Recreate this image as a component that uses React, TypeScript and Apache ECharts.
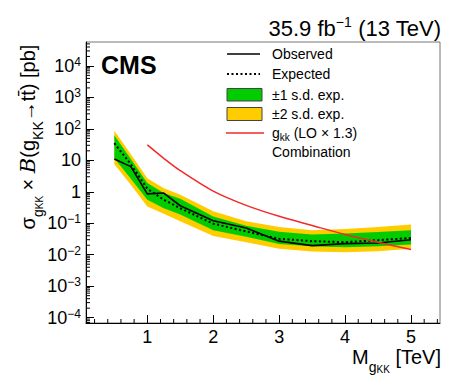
import React, { useEffect, useRef } from "react";
import * as echarts from "echarts";

// ---- data ----
const masses = [0.5, 0.75, 1.0, 1.25, 1.5, 2.0, 2.5, 3.0, 3.5, 4.0, 4.5, 5.0];
const observed = [11, 6.3, 0.86, 0.91, 0.36, 0.12, 0.071, 0.027, 0.0195, 0.0225, 0.0235, 0.03];
const expected = [35, 7.5, 1.25, 0.56, 0.3, 0.097, 0.055, 0.032, 0.027, 0.025, 0.029, 0.034];
const band1Up = [63, 11, 1.9, 0.91, 0.6, 0.165, 0.084, 0.054, 0.044, 0.047, 0.053, 0.06];
const band1Down = [11.6, 2.6, 0.56, 0.3, 0.19, 0.06, 0.037, 0.022, 0.0186, 0.0174, 0.0186, 0.021];
const band2Up = [87, 15.6, 2.7, 1.3, 0.8, 0.24, 0.115, 0.076, 0.06, 0.066, 0.076, 0.091];
const band2Down = [7.5, 1.66, 0.34, 0.2, 0.115, 0.039, 0.025, 0.0154, 0.0126, 0.012, 0.013, 0.0154];
const theoryMass = [1.0, 1.25, 1.5, 2.0, 2.5, 3.0, 3.5, 4.0, 4.5, 5.0];
const theory = [31, 11.6, 4.7, 1.05, 0.37, 0.166, 0.085, 0.044, 0.025, 0.0146];

const xMin = 0.07;
const xMax = 5.44;
const yMin = Math.pow(10, -4.17);
const yMax = Math.pow(10, 4.76);

const FONT = "Liberation Sans, Arial, Helvetica, sans-serif";
const GREEN = "#00cc00";
const YELLOW = "#ffcc00";
const RED = "#f22a2a";

const xMinorTicks: number[] = [];
for (let i = 1; i * 0.2 < xMax; i++) {
  if (i % 5 !== 0) xMinorTicks.push(+(i * 0.2).toFixed(2));
}
const yMinorTicks: number[] = [];
for (let n = -5; n <= 4; n++) {
  for (let k = 2; k <= 9; k++) {
    const v = k * Math.pow(10, n);
    if (v > yMin && v < yMax) yMinorTicks.push(v);
  }
}

function bandSeries(up: number[], down: number[], color: string, z: number) {
  return {
    type: "custom",
    silent: true,
    z,
    data: [[masses[0], up[0]]],
    renderItem: (_p: any, api: any) => {
      const top = masses.map((m, i) => api.coord([m, up[i]]));
      const bot = masses.map((m, i) => api.coord([m, down[i]])).reverse();
      return {
        type: "polygon",
        shape: { points: top.concat(bot) },
        style: { fill: color, stroke: "none" },
      };
    },
  };
}

const subRich = {
  m: { fontSize: 20, lineHeight: 34, fontFamily: FONT, fill: "#000", color: "#000" },
  b: { fontSize: 21, lineHeight: 34, fontFamily: "DejaVu Serif, serif", fontStyle: "italic", color: "#000" },
  s1: { fontSize: 14, lineHeight: 16, verticalAlign: "bottom", fontFamily: FONT, color: "#000" },
  s2: { fontSize: 10, lineHeight: 4, verticalAlign: "bottom", fontFamily: FONT, color: "#000" },
};

export default function App() {
  const ref = useRef<HTMLDivElement>(null);
  useEffect(() => {
    const chart = echarts.init(ref.current!, null, { renderer: "svg" });
    const option: any = {
      animation: false,
      backgroundColor: "#fff",
      grid: {
        left: 86,
        top: 42,
        right: 29,
        bottom: 69,
        show: true,
        borderColor: "#777",
        borderWidth: 1,
        backgroundColor: "transparent",
      },
      xAxis: {
        type: "value",
        min: xMin,
        max: xMax,
        splitNumber: 5,
        axisLine: { onZero: false, lineStyle: { color: "#000", width: 1 } },
        axisTick: { inside: true, length: 8, lineStyle: { color: "#000" } },
        axisLabel: {
          fontSize: 18,
          color: "#000",
          fontFamily: FONT,
          margin: 5,
          showMinLabel: false,
          showMaxLabel: false,
        },
        splitLine: { show: false },
      },
      yAxis: {
        type: "log",
        logBase: 10,
        min: yMin,
        max: yMax,
        splitNumber: 10,
        axisLine: { onZero: false, lineStyle: { color: "#000", width: 1 } },
        axisTick: { inside: true, length: 8, lineStyle: { color: "#000" } },
        axisLabel: {
          fontSize: 18,
          lineHeight: 20,
          color: "#000",
          fontFamily: FONT,
          margin: 5,
          showMinLabel: false,
          showMaxLabel: false,
          formatter: (v: number) => {
            const l = Math.log10(v);
            const e = Math.round(l);
            if (Math.abs(l - e) > 0.01) return "";
            if (e === 0) return "1";
            if (e === 1) return "10";
            return "10{s|" + (e < 0 ? "\u2212" + -e : String(e)) + "}";
          },
          rich: {
            s: { fontSize: 12, lineHeight: 10, verticalAlign: "top", fontFamily: FONT, color: "#000" },
          },
        },
        splitLine: { show: false },
      },
      series: [
        bandSeries(band2Up, band2Down, YELLOW, 1),
        bandSeries(band1Up, band1Down, GREEN, 2),
        {
          type: "line",
          data: masses.map((m, i) => [m, expected[i]]),
          symbol: "none",
          z: 4,
          lineStyle: { color: "#000", width: 2, type: [2, 2.5] },
        },
        {
          type: "line",
          data: masses.map((m, i) => [m, observed[i]]),
          symbol: "none",
          z: 5,
          lineStyle: { color: "#000", width: 1.6 },
        },
        {
          type: "line",
          data: theoryMass.map((m, i) => [m, theory[i]]),
          symbol: "none",
          smooth: 0.3,
          z: 6,
          lineStyle: { color: RED, width: 1.5 },
        },
        {
          type: "custom",
          silent: true,
          z: 7,
          data: [[1, 1]],
          renderItem: (_p: any, api: any) => {
            const children: any[] = [];
            const x0 = api.coord([xMin, 1])[0];
            yMinorTicks.forEach((v) => {
              const py = api.coord([xMin, v])[1];
              children.push({
                type: "line",
                shape: { x1: x0, y1: py, x2: x0 + 4, y2: py },
                style: { stroke: "#000", lineWidth: 1 },
              });
            });
            const y0 = api.coord([1, yMin])[1];
            xMinorTicks.forEach((m) => {
              const px = api.coord([m, yMin])[0];
              children.push({
                type: "line",
                shape: { x1: px, y1: y0, x2: px, y2: y0 - 4 },
                style: { stroke: "#000", lineWidth: 1 },
              });
            });
            return { type: "group", children };
          },
        },
      ],
      graphic: [
        {
          type: "text",
          x: 441,
          y: 28,
          style: {
            text: "35.9 fb{s|\u22121} (13 TeV)",
            fontSize: 22,
            lineHeight: 26,
            fontFamily: FONT,
            fill: "#000",
            align: "right",
            verticalAlign: "middle",
            rich: { s: { fontSize: 14, lineHeight: 16, verticalAlign: "top", fontFamily: FONT, fill: "#000" } },
          },
        },
        {
          type: "text",
          x: 101,
          y: 65,
          style: {
            text: "CMS",
            fontSize: 25,
            fontWeight: "bold",
            fontFamily: FONT,
            fill: "#000",
            align: "left",
            verticalAlign: "middle",
          },
        },
        {
          type: "text",
          x: 27.5,
          y: 137,
          rotation: Math.PI / 2,
          style: {
            text: "{m|\u03c3}{s1|g}{s2|KK}{m| \u00d7 }{b|B}{m|(g}{s1|KK}{m|\u2192tt\u0304) [pb]}",
            fontSize: 20,
            fontFamily: FONT,
            fill: "#000",
            align: "center",
            verticalAlign: "middle",
            rich: subRich,
          },
        },
        {
          type: "text",
          x: 441,
          y: 357,
          style: {
            text: "{m|M}{s1|g}{s2|KK}{m| [TeV]}",
            fontSize: 20,
            fontFamily: FONT,
            fill: "#000",
            align: "right",
            verticalAlign: "middle",
            rich: subRich,
          },
        },
        // legend
        { type: "line", shape: { x1: 227, y1: 54, x2: 260, y2: 54 }, style: { stroke: "#000", lineWidth: 1.6 } },
        { type: "line", shape: { x1: 227, y1: 74, x2: 260, y2: 74 }, style: { stroke: "#000", lineWidth: 2, lineDash: [2, 2.5] } },
        { type: "rect", shape: { x: 227, y: 88.5, width: 35, height: 12.5 }, style: { fill: GREEN, stroke: "#444", lineWidth: 1 } },
        { type: "rect", shape: { x: 227, y: 107.5, width: 35, height: 13 }, style: { fill: YELLOW, stroke: "#444", lineWidth: 1 } },
        { type: "line", shape: { x1: 226, y1: 133, x2: 264, y2: 133 }, style: { stroke: RED, lineWidth: 1.5 } },
        ...[
          ["Observed", 54],
          ["Expected", 74],
          ["\u00b11 s.d. exp.", 94.5],
          ["\u00b12 s.d. exp.", 114],
          ["Combination", 152],
        ].map(([t, y]) => ({
          type: "text",
          x: 272,
          y: y as number,
          style: {
            text: t as string,
            fontSize: 14,
            fontFamily: FONT,
            fill: "#000",
            align: "left",
            verticalAlign: "middle",
          },
        })),
        {
          type: "text",
          x: 272,
          y: 133,
          style: {
            text: "{m|g}{s|kk}{m| (LO \u00d7 1.3)}",
            fontSize: 14,
            fontFamily: FONT,
            fill: "#000",
            align: "left",
            verticalAlign: "middle",
            rich: {
              m: { fontSize: 14, lineHeight: 18, fontFamily: FONT, fill: "#000" },
              s: { fontSize: 10, lineHeight: 8, verticalAlign: "bottom", fontFamily: FONT, fill: "#000" },
            },
          },
        },
      ],
    };
    chart.setOption(option);
    return () => chart.dispose();
  }, []);
  return (
    <div
      ref={ref}
      style={{ position: "absolute", left: 0, top: 0, width: 469, height: 392, background: "#fff" }}
    />
  );
}
